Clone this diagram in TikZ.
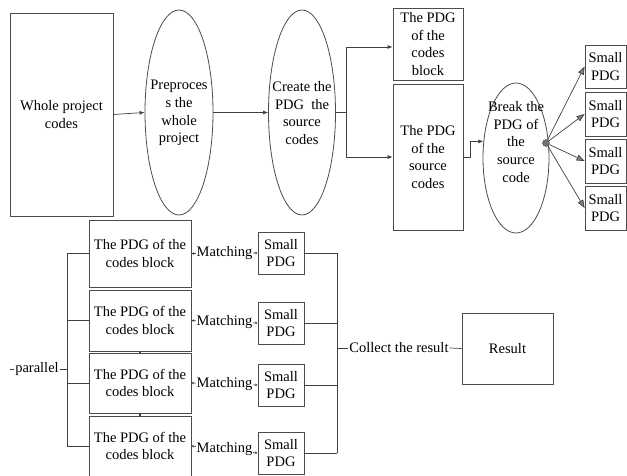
\documentclass[tikz,border=0pt]{standalone}
\usepackage{fontspec}
\setmainfont{Liberation Serif}
\usetikzlibrary{shapes.geometric,arrows.meta,calc}
\begin{document}
\begin{tikzpicture}[x=1pt,y=-1pt,
  every node/.style={font=\fontsize{14.5pt}{17.7pt}\selectfont, text=black},
  box/.style={draw=black!70, line width=0.8pt, inner sep=0pt, align=center},
  oval/.style={draw=black!70, line width=0.8pt, ellipse, inner sep=0pt},
  txt/.style={align=center, inner sep=0pt},
  conn/.style={draw=black!75, line width=0.7pt},
  arr/.style={conn, -{Latex[length=5pt,width=4pt]}},
  bigarr/.style={conn, -{Triangle[length=8pt,width=6pt,fill=black!50]}},
  tinyarr/.style={conn, {Stealth[length=2.5pt,width=2.5pt]}-{Stealth[length=2.5pt,width=2.5pt]}},
]
\useasboundingbox (0,0) rectangle (627,476);

% ---- top row ----
\node[box, minimum width=103pt, minimum height=203pt] (wpc) at (61.5,114.5) {Whole project\\codes};

\node[oval, minimum width=68pt, minimum height=205pt] (e1) at (179,112.5) {};
\node[txt] (t1) at (179,113) {Preproces\\s the\\whole\\project};

\node[oval, minimum width=67pt, minimum height=205pt] (e2) at (302,112.5) {};
\node[txt] (t2) at (302,113) {Create the\\PDG~ the\\source\\codes};

\node[box, minimum width=70pt, minimum height=72pt] (b1) at (428,44) {The PDG\\of the\\codes\\block};
\node[box, minimum width=70pt, minimum height=146pt] (b2) at (428,157) {The PDG\\of the\\source\\codes};

\node[oval, minimum width=66pt, minimum height=150pt] (e3) at (516,158) {};
\node[txt] (t3) at (516,142) {Break the\\PDG of\\the\\source\\code};

\node[box, minimum width=41pt, minimum height=43pt] (s1) at (605.5,66.5) {Small\\PDG};
\node[box, minimum width=41pt, minimum height=44pt] (s2) at (605.5,114) {Small\\PDG};
\node[box, minimum width=41pt, minimum height=44pt] (s3) at (605.5,161) {Small\\PDG};
\node[box, minimum width=41pt, minimum height=44pt] (s4) at (605.5,208) {Small\\PDG};

\node[circle, fill=black!55, draw=black!70, inner sep=0pt, minimum size=7pt] (dot) at (546,143) {};

\draw[arr] (wpc.east) -- (e1.west);
\draw[arr] (e1.east) -- (e2.west);
\coordinate (fk) at (346,112.5);
\draw[conn] (e2.east) -- (fk);
\draw[arr] (fk) |- ([yshift=-3pt]b1.west);
\draw[arr] (fk) |- (b2.west);
\draw[arr] (b2.east) -- ++(7,0) |- (e3.153);
\foreach \i in {1,...,4} \draw[bigarr] (dot) -- (s\i.west);

% ---- bottom part ----
\node[box, minimum width=102pt, minimum height=67pt] (pb1) at (140,253.5) {The PDG of the\\codes block};
\node[box, minimum width=102pt, minimum height=61pt] (pb2) at (140,320.5) {The PDG of the\\codes block};
\node[box, minimum width=102pt, minimum height=60pt] (pb3) at (140,383) {The PDG of the\\codes block};
\node[box, minimum width=102pt, minimum height=60pt] (pb4) at (140,446) {The PDG of the\\codes block};

\node[box, minimum width=46pt, minimum height=42pt] (sp1) at (281,253) {Small\\PDG};
\node[box, minimum width=46pt, minimum height=42pt] (sp2) at (281,323) {Small\\PDG};
\node[box, minimum width=46pt, minimum height=42pt] (sp3) at (281,385) {Small\\PDG};
\node[box, minimum width=46pt, minimum height=42pt] (sp4) at (281,453) {Small\\PDG};

\foreach \i in {1,...,4}
  \draw[tinyarr] (pb\i.east) -- node[fill=white, inner sep=0.5pt] {Matching} (sp\i.west);

\draw[conn, line width=1.5pt] (pb2.south) -- (pb3.north);
\draw[conn, line width=1.5pt] (pb3.south) -- (pb4.north);

% parallel bracket
\coordinate (bx) at (67,0);
\draw[conn] (pb1.west) -- (pb1.west -| bx) -- (pb4.west -| bx) -- (pb4.west);
\draw[conn] (pb2.west) -- (pb2.west -| bx);
\draw[conn] (pb3.west) -- (pb3.west -| bx);
\node[txt, inner sep=1pt] (par) at (37,369) {parallel};
\coordinate (pl) at (10,369);
\draw[conn] (pl) -- (par.west);
\draw[conn] (par.east) -- (par.east -| bx);

% collect bracket
\coordinate (cx) at (337,0);
\foreach \i in {1,...,4} \draw[conn] (sp\i.east) -- (sp\i.east -| cx);
\draw[conn] (sp1.east -| cx) -- (sp4.east -| cx);
\node[box, minimum width=91pt, minimum height=71pt] (res) at (507.5,348.5) {Result};
\node[txt, inner sep=1pt] (col) at (399,348) {Collect the result};
\draw[conn] (col.west -| cx) -- (col.west);
\draw[conn] (col.east) -- (res.west);
\end{tikzpicture}
\end{document}
